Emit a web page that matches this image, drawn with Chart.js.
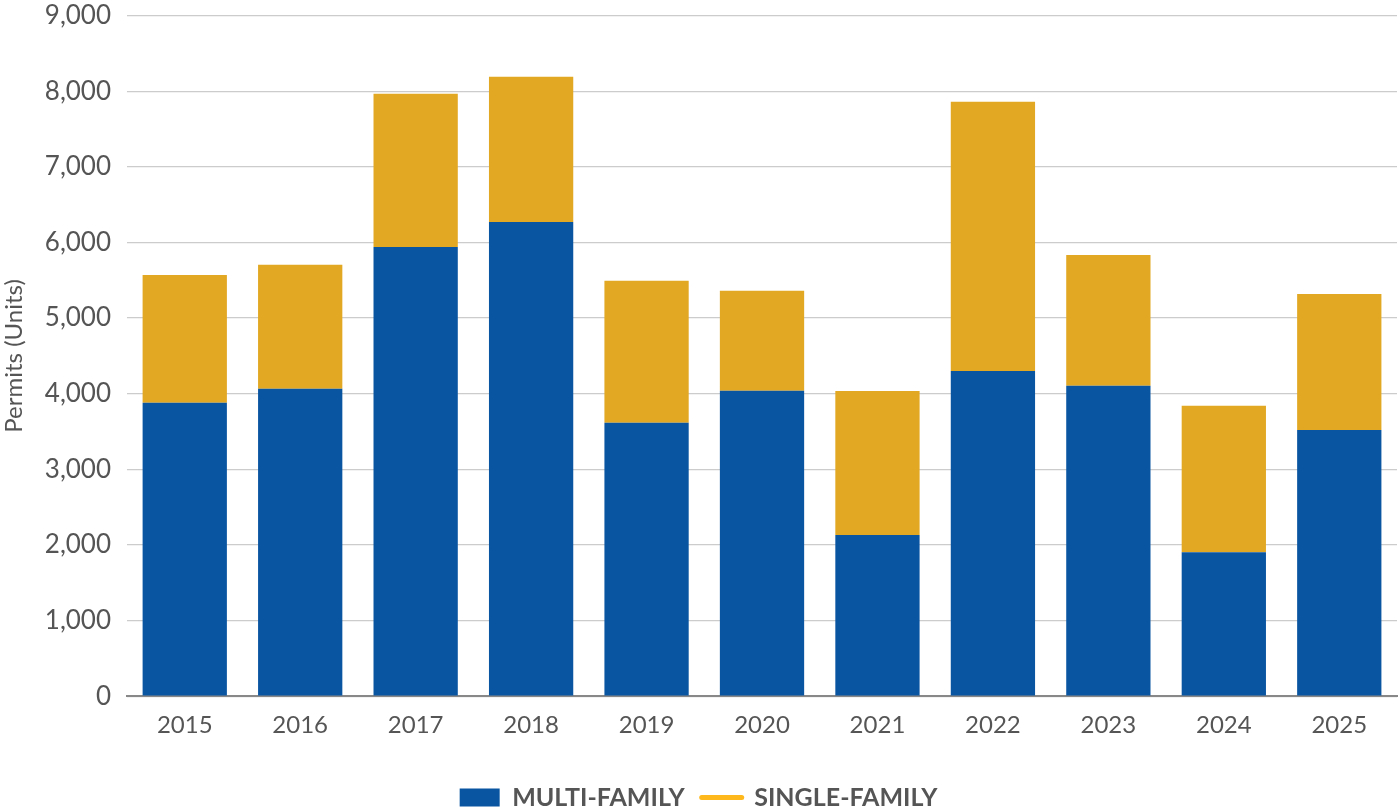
<!DOCTYPE html>
<html>
<head>
<meta charset="utf-8">
<script src="https://cdn.jsdelivr.net/npm/chart.js@4"></script>
<style>
  html, body { margin:0; padding:0; background:#fff; overflow:hidden; }
  #wrap { position:relative; top:-16px; width:1400px; height:836px; }
</style>
</head>
<body>
<div id="wrap"><canvas id="permitChart"></canvas></div>
<script>
const years = ['2015','2016','2017','2018','2019','2020','2021','2022','2023','2024','2025'];
const multiFamily  = [3880, 4065, 5940, 6270, 3615, 4040, 2130, 4300, 4105, 1905, 3520];
const singleFamily = [1690, 1640, 2025, 1920, 1880, 1320, 1905, 3560, 1730, 1935, 1800];
const yTicks = [0, 1000, 2000, 3000, 4000, 5000, 6000, 7000, 8000, 9000];

const FONT = "Lato, 'Open Sans', sans-serif";
const GREY = '#555555';

new Chart(document.getElementById('permitChart'), {
  type: 'bar',
  data: {
    labels: years,
    datasets: [
      {
        label: 'MULTI-FAMILY',
        data: multiFamily,
        backgroundColor: '#0a55a2',
        barPercentage: 0.73,
        categoryPercentage: 1
      },
      {
        label: 'SINGLE-FAMILY',
        data: singleFamily,
        backgroundColor: '#e2a823',
        barPercentage: 0.73,
        categoryPercentage: 1
      }
    ]
  },
  options: {
    responsive: true,
    maintainAspectRatio: false,
    animation: false,
    layout: { padding: { left: 0, right: 3, top: 0, bottom: 0 } },
    scales: {
      x: {
        stacked: true,
        grid: { display: false },
        border: { color: '#888', width: 2 },
        ticks: { color: GREY, font: { family: FONT, size: 24 }, padding: 7 },
        // extra room between the year labels and the legend
        afterFit: axis => { axis.height += 21; }
      },
      y: {
        stacked: true,
        min: 0,
        max: 9000,
        afterBuildTicks: axis => { axis.ticks = yTicks.map(v => ({ value: v })); },
        grid: { color: '#cccccc', lineWidth: 1.2, drawTicks: false },
        border: { display: false },
        ticks: {
          color: GREY,
          font: { family: FONT, size: 26 },
          padding: 16,
          callback: v => v.toLocaleString('en-US')
        },
        title: {
          display: true,
          text: 'Permits (Units)',
          color: GREY,
          font: { family: FONT, size: 24 },
          padding: { top: 0, bottom: 0 }
        }
      }
    },
    plugins: {
      tooltip: { enabled: false },
      legend: {
        position: 'bottom',
        labels: {
          usePointStyle: true,
          pointStyleWidth: 40,
          boxHeight: 18,
          padding: 17,
          color: GREY,
          font: { family: FONT, size: 25, weight: 'bold' },
          generateLabels: chart => [
            { text: 'MULTI-FAMILY', fillStyle: '#0a55a2', strokeStyle: '#0a55a2', lineWidth: 0, pointStyle: 'rect', fontColor: GREY, datasetIndex: 0 },
            { text: 'SINGLE-FAMILY', fillStyle: '#ffb81c', strokeStyle: '#ffb81c', lineWidth: 5, lineCap: 'round', pointStyle: 'line', fontColor: GREY, datasetIndex: 1 }
          ]
        }
      }
    }
  }
});
</script>
</body>
</html>
